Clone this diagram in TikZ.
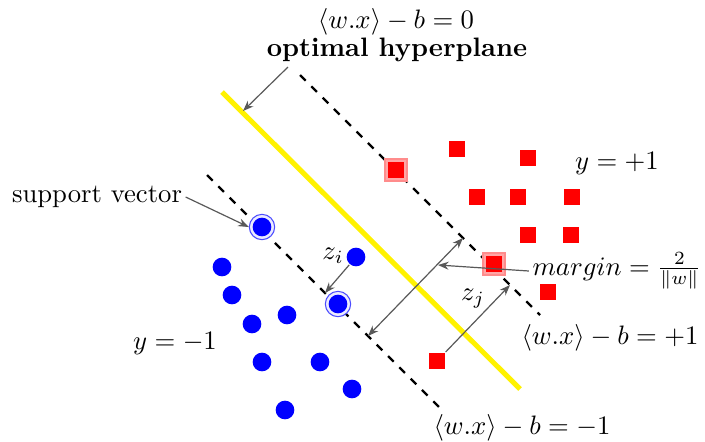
\documentclass[tikz,border=0pt]{standalone}
\usepackage{amsmath}
\usepackage{amssymb}
\usepackage{tikz}
\usetikzlibrary{arrows.meta}
\tikzset{every picture/.style={line width=0.75pt}}
\tikzset{
  possq/.style={fill=red, draw=none, minimum size=6pt, inner sep=0pt},
  negdot/.style={circle, fill=blue, draw=none, minimum size=7pt, inner sep=0pt},
  posring/.style={fill=red!35, draw=red!45, minimum size=8.5pt, inner sep=0pt},
  negring/.style={circle, fill=blue!8, draw=blue!70, line width=0.4pt, minimum size=9.5pt, inner sep=0pt},
  plane/.style={dash pattern={on 3pt off 3pt}, line width=0.8pt},
  pointer/.style={draw=black!65, line width=0.45pt, -{Stealth[length=4pt]}},
  lbl/.style={inner sep=1pt}
}

\begin{document}
\begin{tikzpicture}[x=0.375pt,y=-0.375pt]
\useasboundingbox (0,0) rectangle (705,441);

%Straight Lines: optimal hyperplane
\draw [yellow, line width=1.9pt] (222,92) -- (520,389) ;
%Straight Lines: margin planes
\draw [plane] (300,75) -- (540,315) ;
\draw [plane] (207,175) -- (443,411) ;

%Shapes: class y=+1
\node [posring] at (396,170) {};
\node [posring] at (494,264) {};
\foreach \px/\py in {396/170, 457/149, 528/158, 477/197, 518/197, 572/197, 528/235, 571/235, 494/264, 548/292}
  \node [possq] at (\px,\py) {};
\node [possq] (rj) at (437,361) {};

%Shapes: class y=-1
\node [negring] (sv1) at (262,227) {};
\node [negring] (sv2) at (338,304) {};
\foreach \nx/\ny in {262/227, 338/304, 222/267, 232/295, 252/324, 287/315, 262/362, 320/362, 352/389, 285/410}
  \node [negdot] at (\nx,\ny) {};
\node [negdot] (bi) at (356,257) {};

%Labels
\node [lbl] (eq0) at (396,22) {$\langle w.x\rangle - b = 0$};
\node [lbl, font=\bfseries] (opt) at (397,50) {optimal hyperplane};
\node [lbl] (svl) at (97,197) {support vector};
\node [lbl] at (617,163) {$y=+1$};
\node [lbl] at (175,343) {$y=-1$};
\node [lbl] at (333,256) {$z_i$};
\node [lbl] at (473,299) {$z_j$};
\node [lbl] (mar) at (617,271) {$margin = \frac{2}{\|w\|}$};
\node [lbl] at (610,338) {$\langle w.x\rangle - b = +1$};
\node [lbl] at (522,428) {$\langle w.x\rangle - b = -1$};

%Points on the planes
\coordinate (h0) at (243,111);
\coordinate (zi) at (325,293);
\coordinate (zj) at (510,285);
\coordinate (mlo) at (368,336);
\coordinate (mhi) at (463,238);
\coordinate (mmid) at (438,265);

%Arrows
\draw [pointer] (288,67) -- (h0) ;
\draw [pointer] (svl.east) -- (sv1.west) ;
\draw [pointer] (bi) -- (zi) ;
\draw [pointer] (rj) -- (zj) ;
\draw [pointer, {Stealth[length=4pt]}-{Stealth[length=4pt]}] (mlo) -- (mhi) ;
\draw [pointer] (mar.west) -- (mmid) ;
\end{tikzpicture}
\end{document}
